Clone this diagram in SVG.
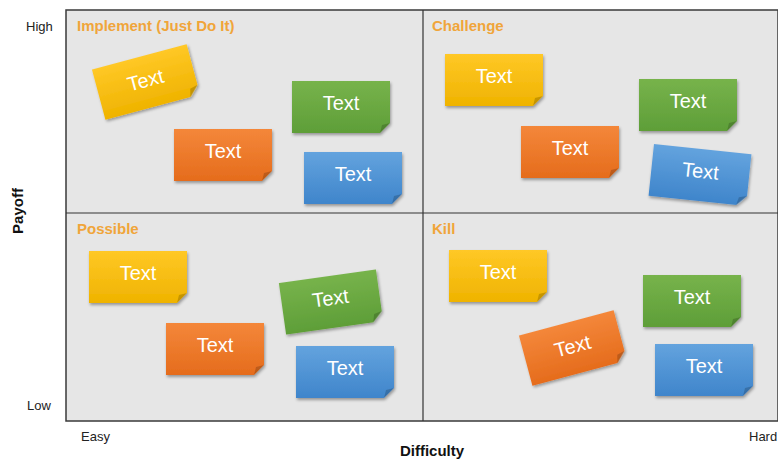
<svg xmlns="http://www.w3.org/2000/svg" width="778" height="461" viewBox="0 0 778 461">
<style>
.axis{font-family:"Liberation Sans",Arial,sans-serif;font-size:13px;fill:#222}
.axtitle{font-family:"Liberation Sans",Arial,sans-serif;font-size:15px;font-weight:bold;fill:#111}
.qt{font-family:"Liberation Sans",Arial,sans-serif;font-size:15px;font-weight:bold;fill:#F0A53A}
.nt{font-family:"Liberation Sans",Arial,sans-serif;font-size:20px;fill:#fff;text-anchor:middle}
.fold{fill:#000;opacity:0.18}
</style>
<defs>
<linearGradient id="gy" x1="0" y1="0" x2="0" y2="1"><stop offset="0" stop-color="#FFC826"/><stop offset="1" stop-color="#EFB300"/></linearGradient>
<linearGradient id="go" x1="0" y1="0" x2="0" y2="1"><stop offset="0" stop-color="#F4873A"/><stop offset="1" stop-color="#E56C1C"/></linearGradient>
<linearGradient id="gg" x1="0" y1="0" x2="0" y2="1"><stop offset="0" stop-color="#77B34B"/><stop offset="1" stop-color="#5E9E38"/></linearGradient>
<linearGradient id="gb" x1="0" y1="0" x2="0" y2="1"><stop offset="0" stop-color="#63A3DE"/><stop offset="1" stop-color="#3F85CB"/></linearGradient>
<filter id="sh" x="-20%" y="-20%" width="140%" height="150%"><feDropShadow dx="1" dy="2" stdDeviation="1.5" flood-color="#000" flood-opacity="0.35"/></filter>
<path id="note" d="M-49,-26 H49 V16 L39,26 H-49 Z"/>
<path id="foldp" d="M39,26 L41,18 L49,16 Z"/>
</defs>
<g id="frame">
<rect x="66" y="10" width="712" height="411" fill="#E6E6E6" stroke="#3a3a3a" stroke-width="1.5"/>
<line x1="423" y1="10" x2="423" y2="421" stroke="#333" stroke-width="1.2"/>
<line x1="66" y1="213" x2="778" y2="213" stroke="#333" stroke-width="1.2"/>
</g>
<g id="labels">
<text class="axis" x="26" y="31">High</text>
<text class="axis" x="27" y="410">Low</text>
<text class="axis" x="81" y="441">Easy</text>
<text class="axis" x="749" y="441">Hard</text>
<text class="axtitle" x="432" y="456" text-anchor="middle">Difficulty</text>
<text class="axtitle" transform="translate(23,211) rotate(-90)" text-anchor="middle">Payoff</text>
<text class="qt" x="77" y="31">Implement (Just Do It)</text>
<text class="qt" x="432" y="31">Challenge</text>
<text class="qt" x="77" y="234">Possible</text>
<text class="qt" x="432" y="234">Kill</text>
</g>
<g id="q1-yellow" transform="translate(146,82) rotate(-15)"><use href="#note" fill="url(#gy)" filter="url(#sh)"/><use href="#foldp" class="fold"/><text class="nt" y="5">Text</text></g>
<g id="q1-orange" transform="translate(223,155)"><use href="#note" fill="url(#go)" filter="url(#sh)"/><use href="#foldp" class="fold"/><text class="nt" y="3">Text</text></g>
<g id="q1-green" transform="translate(341,107)"><use href="#note" fill="url(#gg)" filter="url(#sh)"/><use href="#foldp" class="fold"/><text class="nt" y="3">Text</text></g>
<g id="q1-blue" transform="translate(353,178)"><use href="#note" fill="url(#gb)" filter="url(#sh)"/><use href="#foldp" class="fold"/><text class="nt" y="3">Text</text></g>
<g id="q2-yellow" transform="translate(494,80)"><use href="#note" fill="url(#gy)" filter="url(#sh)"/><use href="#foldp" class="fold"/><text class="nt" y="3">Text</text></g>
<g id="q2-green" transform="translate(688,105)"><use href="#note" fill="url(#gg)" filter="url(#sh)"/><use href="#foldp" class="fold"/><text class="nt" y="3">Text</text></g>
<g id="q2-orange" transform="translate(570,152)"><use href="#note" fill="url(#go)" filter="url(#sh)"/><use href="#foldp" class="fold"/><text class="nt" y="3">Text</text></g>
<g id="q2-blue" transform="translate(700,175) rotate(6)"><use href="#note" fill="url(#gb)" filter="url(#sh)"/><use href="#foldp" class="fold"/><text class="nt" y="3">Text</text></g>
<g id="q3-yellow" transform="translate(138,277)"><use href="#note" fill="url(#gy)" filter="url(#sh)"/><use href="#foldp" class="fold"/><text class="nt" y="3">Text</text></g>
<g id="q3-green" transform="translate(331,302) rotate(-8)"><use href="#note" fill="url(#gg)" filter="url(#sh)"/><use href="#foldp" class="fold"/><text class="nt" y="3">Text</text></g>
<g id="q3-orange" transform="translate(215,349)"><use href="#note" fill="url(#go)" filter="url(#sh)"/><use href="#foldp" class="fold"/><text class="nt" y="3">Text</text></g>
<g id="q3-blue" transform="translate(345,372)"><use href="#note" fill="url(#gb)" filter="url(#sh)"/><use href="#foldp" class="fold"/><text class="nt" y="3">Text</text></g>
<g id="q4-yellow" transform="translate(498,276)"><use href="#note" fill="url(#gy)" filter="url(#sh)"/><use href="#foldp" class="fold"/><text class="nt" y="3">Text</text></g>
<g id="q4-green" transform="translate(692,301)"><use href="#note" fill="url(#gg)" filter="url(#sh)"/><use href="#foldp" class="fold"/><text class="nt" y="3">Text</text></g>
<g id="q4-orange" transform="translate(573,348) rotate(-15)"><use href="#note" fill="url(#go)" filter="url(#sh)"/><use href="#foldp" class="fold"/><text class="nt" y="5">Text</text></g>
<g id="q4-blue" transform="translate(704,370)"><use href="#note" fill="url(#gb)" filter="url(#sh)"/><use href="#foldp" class="fold"/><text class="nt" y="3">Text</text></g>
</svg>
